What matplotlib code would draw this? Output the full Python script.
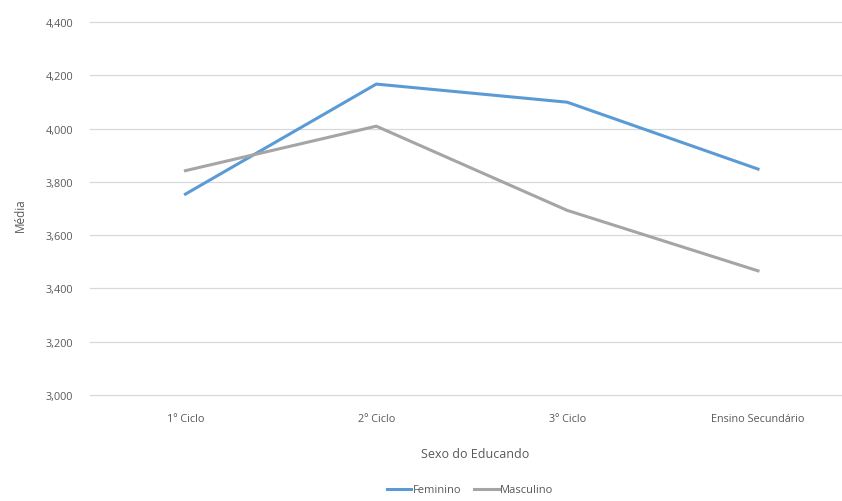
import matplotlib
matplotlib.use("Agg")
import matplotlib.pyplot as plt
from matplotlib.ticker import FuncFormatter, MultipleLocator

categories = ["1º Ciclo", "2º Ciclo", "3º Ciclo", "Ensino Secundário"]
feminino = [3.754, 4.167, 4.099, 3.848]
masculino = [3.842, 4.009, 3.693, 3.466]

plt.rcParams["font.family"] = ["Open Sans", "DejaVu Sans"]
text_color = "#595959"

W, H = 842, 502
fig = plt.figure(figsize=(W / 100, H / 100), dpi=100)
left, right, top, bottom = 90, 842, 23, 396
ax = fig.add_axes([left / W, 1 - bottom / H, (right - left) / W, (bottom - top) / H])

x = list(range(len(categories)))
ax.plot(x, feminino, color="#5B9BD5", lw=2.2, label="Feminino", solid_joinstyle="round")
ax.plot(x, masculino, color="#A5A5A5", lw=2.2, label="Masculino", solid_joinstyle="round")

ax.set_xlim(-0.5, 3.44)
ax.set_ylim(3.0, 4.4)
ax.yaxis.set_major_locator(MultipleLocator(0.2))
ax.yaxis.set_major_formatter(FuncFormatter(lambda v, p: f"{v:.3f}".replace(".", ",")))
ax.set_xticks(x)
ax.set_xticklabels(categories)
ax.grid(axis="y", color="#D9D9D9", lw=0.9)
for gl in ax.get_ygridlines():
    gl.set_clip_on(False)
ax.set_axisbelow(True)
for s in ax.spines.values():
    s.set_visible(False)
ax.tick_params(axis="both", length=0, labelsize=7.8, colors=text_color)
ax.tick_params(axis="y", pad=12)
ax.tick_params(axis="x", pad=13)

ax.set_ylabel("Média", fontsize=8.5, color=text_color)
ax.set_xlabel("Sexo do Educando", fontsize=9, color=text_color)
ax.xaxis.set_label_coords((475 - left) / (right - left), -(448 - bottom) / (bottom - top))
ax.yaxis.set_label_coords(-(left - 27) / (right - left), (bottom - 215) / (bottom - top))

fig.legend(loc="center", bbox_to_anchor=(470 / W, 1 - 491 / H), ncol=2, frameon=False,
           fontsize=8, labelcolor=text_color, handlelength=2.2, handletextpad=0.1,
           columnspacing=1.2)

fig.savefig("out.png", dpi=100, facecolor="white")
